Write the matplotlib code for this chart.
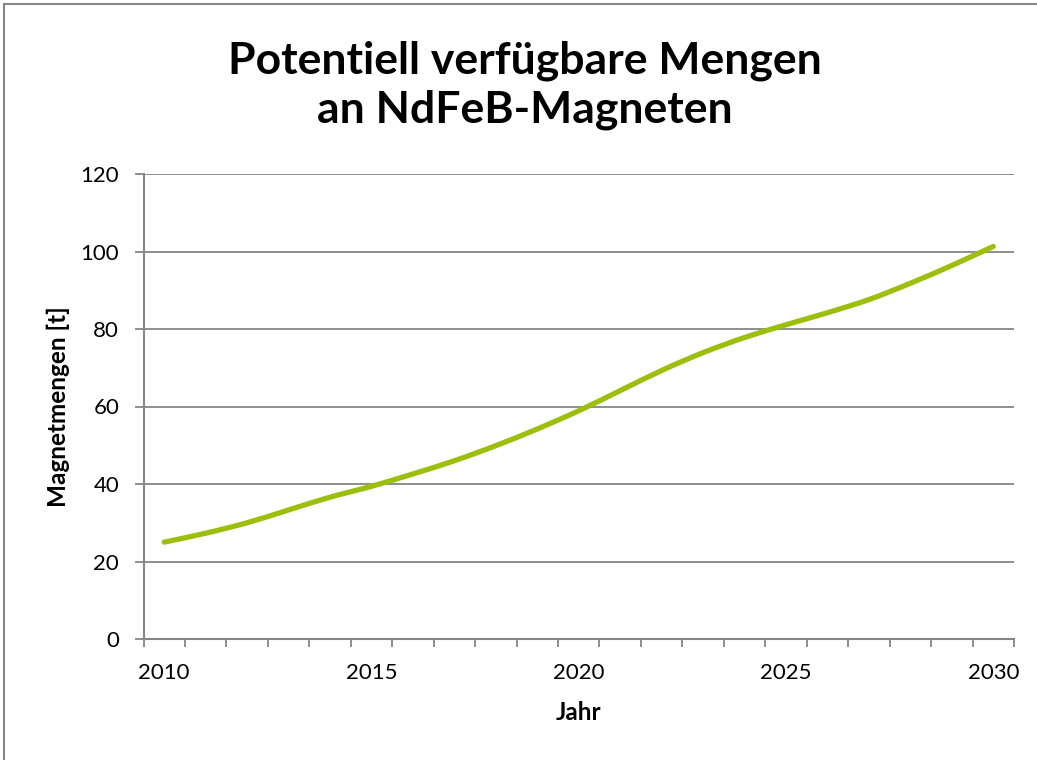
import matplotlib
matplotlib.use("Agg")
import matplotlib.pyplot as plt
from matplotlib.patches import Rectangle, PathPatch
from matplotlib.path import Path
from matplotlib.ticker import FixedLocator

# Daten
years = list(range(2010, 2031))
mengen = [25.0, 27.3, 30.0, 33.3, 36.6, 39.4, 42.6, 46.0, 49.9, 54.2, 58.9,
          64.1, 69.3, 73.9, 77.8, 81.1, 84.2, 87.6, 91.8, 96.4, 101.3]
label_years = [2010, 2015, 2020, 2025, 2030]

title = "Potentiell verfügbare Mengen\nan NdFeB-Magneten"
xlabel = "Jahr"
ylabel = "Magnetmengen [t]"

plt.rcParams["font.family"] = ["Lato", "DejaVu Sans"]
grau = "#868686"
gruen = "#9BBF0B"

W, H = 1037, 760
fig = plt.figure(figsize=(W / 100, H / 100), dpi=100)
ax = fig.add_axes([143.5 / W, 1 - 639 / H, 870.5 / W, 465 / H])

# Rahmen um das ganze Diagramm
fig.patches.append(Rectangle((4 / W, -0.1), 1.2, 1.1 - 4 / H, transform=fig.transFigure,
                             fill=False, edgecolor=grau, lw=1.5, clip_on=False))

# geglättete Linie wie in Excel (Bezier-Segmente durch die Datenpunkte)
x = list(range(len(years)))
pts = list(zip(x, mengen))
verts = [pts[0]]
codes = [Path.MOVETO]
for i in range(len(pts) - 1):
    p0 = pts[max(i - 1, 0)]
    p1 = pts[i]
    p2 = pts[i + 1]
    p3 = pts[min(i + 2, len(pts) - 1)]
    c1 = (p1[0] + (p2[0] - p0[0]) / 6, p1[1] + (p2[1] - p0[1]) / 6)
    c2 = (p2[0] - (p3[0] - p1[0]) / 6, p2[1] - (p3[1] - p1[1]) / 6)
    verts += [c1, c2, p2]
    codes += [Path.CURVE4] * 3
ax.add_patch(PathPatch(Path(verts, codes), fill=False, edgecolor=gruen, lw=3.8,
                       capstyle="round", joinstyle="round", zorder=3))

ax.set_xlim(-0.5, len(years) - 0.5)
ax.set_ylim(0, 120)
ax.set_yticks(range(0, 121, 20))
ax.grid(axis="y", color=grau, lw=1.3)
ax.set_axisbelow(True)

# Kategorie-Achse: Beschriftung in der Mitte, Striche an den Grenzen
ax.set_xticks([years.index(y) for y in label_years])
ax.set_xticklabels([str(y) for y in label_years])
ax.xaxis.set_minor_locator(FixedLocator([i - 0.5 for i in range(len(years) + 1)]))
ax.tick_params(axis="x", which="major", length=0, pad=17, labelsize=16)
ax.tick_params(axis="x", which="minor", length=6, width=1.3, color=grau, direction="out")
ax.tick_params(axis="y", length=6.5, width=1.3, color=grau, pad=11, labelsize=16)

for s in ["top", "right"]:
    ax.spines[s].set_visible(False)
for s in ["left", "bottom"]:
    ax.spines[s].set_color(grau)
    ax.spines[s].set_linewidth(1.5)

ax.set_xlabel(xlabel, fontsize=17.5, fontweight="bold")
ax.set_ylabel(ylabel, fontsize=17.5, fontweight="bold")
ax.xaxis.set_label_coords(0.5, (639 - 713) / 465)
ax.xaxis.label.set_va("center")
ax.yaxis.set_label_coords((58 - 143.5) / 870.5, 0.5)
ax.yaxis.label.set_va("center")

fig.text(525 / W, 1 - 85 / H, title, ha="center", va="center", fontsize=32,
         fontweight="bold", linespacing=1.25)

fig.savefig("out.png", dpi=100)
